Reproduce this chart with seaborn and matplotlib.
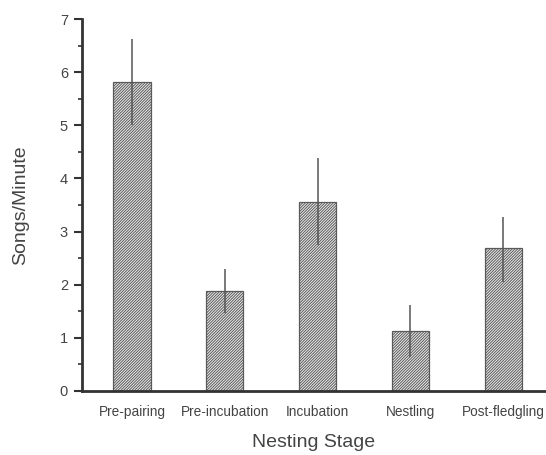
import matplotlib
matplotlib.use("Agg")
import matplotlib.pyplot as plt
import numpy as np
import pandas as pd
import seaborn as sns
from matplotlib.ticker import MultipleLocator

stages = ["Pre-pairing", "Pre-incubation", "Incubation", "Nestling", "Post-fledgling"]
songs_per_min = [5.82, 1.88, 3.56, 1.13, 2.69]
err_low = [5.00, 1.47, 2.75, 0.64, 2.05]
err_high = [6.63, 2.30, 4.39, 1.62, 3.28]

sns.set_style("ticks")
plt.rcParams["font.family"] = ["Liberation Sans", "DejaVu Sans"]
plt.rcParams["hatch.color"] = "#7c7c7c"
plt.rcParams["hatch.linewidth"] = 0.7

df = pd.DataFrame({"stage": stages, "rate": songs_per_min})

fig = plt.figure(figsize=(5.46, 4.55), dpi=100)
ax = fig.add_axes([0.15, 0.141, 0.85, 0.817])

sns.barplot(data=df, x="stage", y="rate", color="#ececec", width=0.4,
            edgecolor="#5a5a5a", linewidth=0.9, ax=ax)
for bar in ax.patches:
    bar.set_hatch("/" * 12)

means = np.array(songs_per_min)
yerr = [means - np.array(err_low), np.array(err_high) - means]
ax.errorbar(np.arange(len(stages)), means, yerr=yerr, fmt="none",
            ecolor="#555555", elinewidth=1.1, capsize=0)

ax.set_xlim(-0.54, 4.46)
ax.set_ylim(0, 7)
ax.yaxis.set_major_locator(MultipleLocator(1))
ax.yaxis.set_minor_locator(MultipleLocator(0.5))

for side in ["top", "right"]:
    ax.spines[side].set_visible(False)
ax.spines["left"].set_linewidth(2)
ax.spines["bottom"].set_linewidth(2)
ax.spines["left"].set_color("#333333")
ax.spines["bottom"].set_color("#333333")

ax.tick_params(axis="y", which="major", length=6, width=1.5, color="#333333",
               labelsize=10.5, labelcolor="#444444", pad=4)
ax.tick_params(axis="y", which="minor", length=3, width=1.2, color="#333333")
ax.tick_params(axis="x", length=0, labelsize=9.8, labelcolor="#444444", pad=10)

ax.set_xlabel("Nesting Stage", fontsize=14, color="#444444", labelpad=11)
ax.set_ylabel("Songs/Minute", fontsize=14, color="#444444", labelpad=22)

fig.savefig("out.png", dpi=100)
